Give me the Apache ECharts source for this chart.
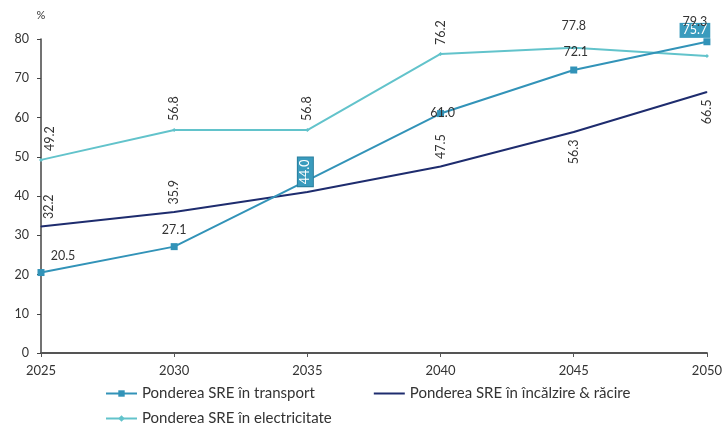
<!DOCTYPE html>
<html>
<head>
<meta charset="utf-8">
<script src="https://cdn.jsdelivr.net/npm/echarts@6/dist/echarts.min.js"></script>
<style>html,body{margin:0;padding:0;background:#fff}#c{width:725px;height:429px}</style>
</head>
<body>
<div id="c"></div>
<script>
const years = ['2025', '2030', '2035', '2040', '2045', '2050'];
const transport = [20.5, 27.1, 44.0, 61.0, 72.1, 79.3];
const heating = [32.2, 35.9, 41.0, 47.5, 56.3, 66.5];
const electricity = [49.2, 56.8, 56.8, 76.2, 77.8, 75.7];
const yTicks = [0, 10, 20, 30, 40, 50, 60, 70, 80];
const names = ['Ponderea SRE în transport', 'Ponderea SRE în încălzire & răcire', 'Ponderea SRE în electricitate'];

const FONT = 'Lato';
const TXT = '#333';
const fmt = p => Number(p.value).toFixed(1);
const base = {show: true, color: TXT, fontFamily: FONT, fontSize: 12.5, formatter: fmt};
const rotUp = (dx) => Object.assign({}, base, {position: 'top', rotate: 90, align: 'left', verticalAlign: 'middle', distance: 7, offset: [0, dx || 0]});
const rotDown = (dx) => Object.assign({}, base, {position: 'bottom', rotate: 90, align: 'right', verticalAlign: 'middle', distance: 7, offset: [0, dx || 0]});
const above = (dx, dy) => Object.assign({}, base, {position: 'top', distance: 5, offset: [dx || 0, dy || 0]});

const transportLabels = [
  above(22, -2),
  above(0, -2),
  Object.assign({}, base, {position: 'top', rotate: 90, align: 'center', verticalAlign: 'middle', offset: [0, -2], color: '#fff', backgroundColor: '#3a9bbd', padding: [1, 2], borderColor: '#2a7f9e', borderWidth: 1}),
  Object.assign({}, base, {position: 'inside', offset: [2, -1]}),
  above(2, -3),
  above(-12, -5)
];
const heatingLabels = [
  rotUp(8), rotUp(0), {show: false}, rotUp(0), rotDown(0), rotDown(0)
];
const elecLabels = [
  rotUp(9), rotUp(0), rotUp(0), rotUp(0), above(0, -8),
  Object.assign({}, base, {position: 'top', offset: [-12, -11], color: '#fff', backgroundColor: '#3a9bbd', padding: [1, 3]})
];

const mk = (vals, labels) => vals.map((v, i) => ({value: v, label: labels[i]}));

const cTransport = '#3293b8';
const cHeating = '#1e2c6e';
const cElec = '#62c3cb';

const legendText = {color: TXT, fontFamily: FONT, fontSize: 15};

const chart = echarts.init(document.getElementById('c'), null, {renderer: 'canvas'});
chart.setOption({
  animation: false,
  backgroundColor: '#fff',
  textStyle: {fontFamily: FONT},
  grid: {left: 41, right: 16, top: 39, bottom: 76, containLabel: false},
  legend: [
    {data: [names[0], {name: names[1], itemStyle: {opacity: 0}}], left: 100, top: 381, itemWidth: 31, itemHeight: 8, itemGap: 58,
     textStyle: legendText},
    {data: [names[2]], left: 100, top: 406, itemWidth: 31, itemHeight: 8,
     textStyle: legendText}
  ],
  xAxis: {
    type: 'category', data: years, boundaryGap: false,
    axisLine: {lineStyle: {color: '#555', width: 2}},
    axisTick: {show: true, length: 4, lineStyle: {color: '#555'}},
    axisLabel: {color: TXT, fontFamily: FONT, fontSize: 13, margin: 11}
  },
  yAxis: {
    type: 'value', min: 0, max: 80, interval: 10,
    name: '%', nameLocation: 'end', nameGap: 18,
    nameTextStyle: {color: TXT, fontFamily: FONT, fontSize: 11, align: 'center'},
    axisLine: {show: true, lineStyle: {color: '#444', width: 1.5}},
    axisTick: {show: true, length: 4, lineStyle: {color: '#444'}},
    splitLine: {show: false},
    axisLabel: {color: TXT, fontFamily: FONT, fontSize: 12.5, margin: 12,
      formatter: v => yTicks.includes(v) ? String(v) : ''}
  },
  series: [
    {name: names[0], type: 'line', data: mk(transport, transportLabels),
     symbol: 'rect', symbolSize: 7, showAllSymbol: true,
     lineStyle: {color: cTransport, width: 2}, itemStyle: {color: cTransport}, z: 3},
    {name: names[1], type: 'line', data: mk(heating, heatingLabels),
     symbol: 'circle', symbolSize: 1, showAllSymbol: true,
     lineStyle: {color: cHeating, width: 2}, itemStyle: {color: cHeating}, z: 2},
    {name: names[2], type: 'line', data: mk(electricity, elecLabels),
     symbol: 'diamond', symbolSize: 4, showAllSymbol: true,
     lineStyle: {color: cElec, width: 2}, itemStyle: {color: cElec}, z: 1}
  ]
});
</script>
</body>
</html>
